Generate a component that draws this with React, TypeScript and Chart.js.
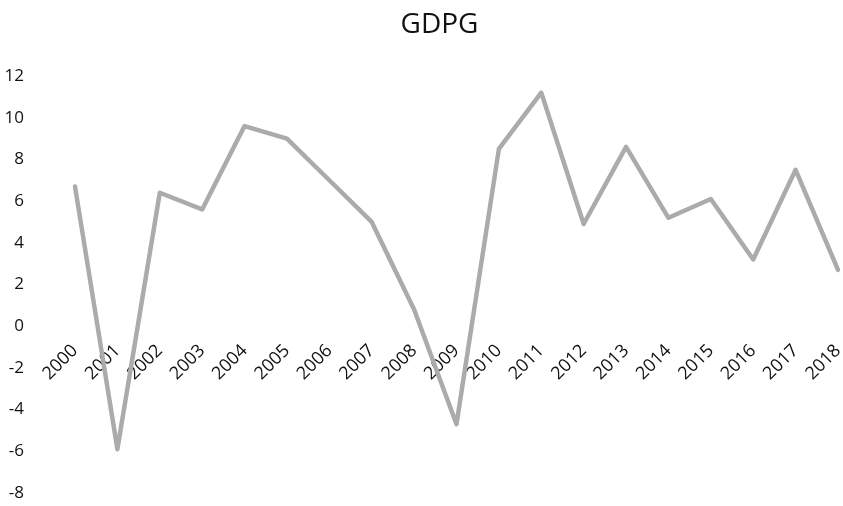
import React, { useEffect, useRef } from "react";
import { Chart, registerables } from "chart.js";

Chart.register(...registerables);

// Annual GDP growth (%), 2000–2018
const years = [
  "2000", "2001", "2002", "2003", "2004", "2005", "2006", "2007", "2008", "2009",
  "2010", "2011", "2012", "2013", "2014", "2015", "2016", "2017", "2018",
];
const gdpg = [
  6.7, -5.9, 6.4, 5.6, 9.6, 9.0, 7.0, 5.0, 0.8, -4.7,
  8.5, 11.2, 4.9, 8.6, 5.2, 6.1, 3.2, 7.5, 2.7,
];
const yMin = -8;
const yMax = 12;
const yStep = 2;
const chartTitle = "GDPG";

const FONT = "'Open Sans', 'Liberation Sans', sans-serif";

// Title centred over the plot area rather than the whole canvas
const plotTitle = {
  id: "plotTitle",
  afterDraw(chart: any) {
    const { ctx, chartArea } = chart;
    ctx.save();
    ctx.font = `28px ${FONT}`;
    ctx.fillStyle = "#111";
    ctx.textAlign = "center";
    ctx.textBaseline = "middle";
    ctx.fillText(chartTitle, (chartArea.left + chartArea.right) / 2 - 17, 25);
    ctx.restore();
  },
};

export default function App() {
  const canvasRef = useRef<HTMLCanvasElement | null>(null);

  useEffect(() => {
    const canvas = canvasRef.current;
    if (!canvas) return;
    const chart = new Chart(canvas, {
      type: "line",
      data: {
        labels: years,
        datasets: [
          {
            label: chartTitle,
            data: gdpg,
            borderColor: "#ababab",
            borderWidth: 4.5,
            borderJoinStyle: "round",
            borderCapStyle: "round",
            pointRadius: 0,
            tension: 0,
            fill: false,
          },
        ],
      },
      options: {
        animation: false,
        responsive: false,
        maintainAspectRatio: false,
        layout: { padding: { left: 0, right: 5, top: 76, bottom: 13 } },
        plugins: {
          legend: { display: false },
          tooltip: { enabled: false },
          title: { display: false },
        },
        scales: {
          x: {
            type: "category",
            position: { y: 0 },
            offset: false,
            grid: { display: false },
            border: { display: false },
            afterFit: (scale: any) => {
              scale.height = 0;
              scale.paddingLeft = 0;
              scale.paddingRight = 0;
            },
            ticks: {
              color: "#111",
              font: { family: FONT, size: 18 },
              minRotation: 45,
              maxRotation: 45,
              autoSkip: false,
              padding: 6,
            },
          },
          y: {
            type: "linear",
            min: yMin,
            max: yMax,
            grid: { display: false },
            border: { display: false },
            afterFit: (scale: any) => {
              // fixed gutter for the value labels; no extra vertical padding
              scale.width = 75;
              scale.paddingTop = 0;
              scale.paddingBottom = 0;
            },
            ticks: {
              stepSize: yStep,
              color: "#111",
              font: { family: FONT, size: 17 },
              padding: 43,
            },
          },
        },
      },
      plugins: [plotTitle],
    });
    return () => chart.destroy();
  }, []);

  return (
    <div
      style={{
        position: "fixed",
        left: 0,
        top: 0,
        width: 843,
        height: 506,
        background: "#fff",
      }}
    >
      <canvas ref={canvasRef} width={843} height={506} />
    </div>
  );
}
